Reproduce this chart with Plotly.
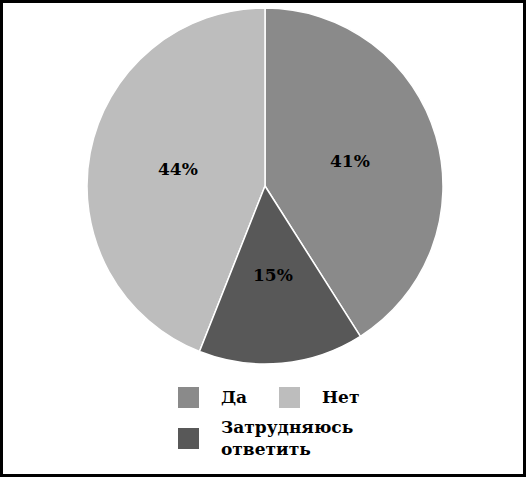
import math
import plotly.graph_objects as go

# данные диаграммы
labels = ["Да", "Нет", "Затрудняюсь<br>ответить"]
values = [41, 44, 15]
colors = ["#8a8a8a", "#bdbdbd", "#585858"]

W, H = 526, 477
FONT = "DejaVu Serif"

# круг: центр и радиус в пикселях
CX, CY, R = 265, 186, 178

# против часовой: первый сектор (Да) лежит справа от 12 часов,
# порядок легенды при этом Да, Нет, Затрудняюсь
pie = go.Pie(
    labels=labels,
    values=values,
    marker=dict(colors=colors, line=dict(color="white", width=1.5)),
    sort=False,
    direction="counterclockwise",
    rotation=0,
    textinfo="none",
    domain=dict(x=[(CX - R) / W, (CX + R) / W], y=[1 - (CY + R) / H, 1 - (CY - R) / H]),
    showlegend=False,
    hoverinfo="label+percent",
)

fig = go.Figure(data=[pie])

shapes = []
annotations = []

# подписи процентов на половине радиуса, по середине сектора
total = sum(values)
# углы по часовой от 12 часов: Да 0..v0, Нет 360-v1..360, Затр. между ними
start_cw = [0, 360 - 360 * values[1] / total, 360 * values[0] / total]
for v, a0 in zip(values, start_cw):
    mid = math.radians(a0 + 180 * v / total)
    px = CX + 0.5 * R * math.sin(mid)
    py = CY - 0.5 * R * math.cos(mid)
    annotations.append(dict(
        text=f"{v}%", xref="paper", yref="paper",
        x=px / W, y=1 - py / H, showarrow=False,
        xanchor="center", yanchor="middle",
        font=dict(family=FONT, size=17, color="black", weight="bold"),
    ))

# легенда вручную: квадраты 20px как в оригинале
col_x = [178, 279]
row_y = [387, 428]
slots = [(0, 0), (0, 1), (1, 0)]
for lab, col, (r, c) in zip(labels, colors, slots):
    x0 = col_x[c]
    y0 = row_y[r]
    shapes.append(dict(
        type="rect", xref="paper", yref="paper",
        x0=x0 / W, x1=(x0 + 21) / W, y0=1 - (y0 + 21) / H, y1=1 - y0 / H,
        fillcolor=col, line=dict(width=0),
    ))
    annotations.append(dict(
        text=lab, xref="paper", yref="paper",
        x=(x0 + 41) / W, y=1 - (y0 + 10) / H,
        xanchor="left", yanchor="middle", align="left", showarrow=False,
        font=dict(family=FONT, size=17, color="black", weight="bold"),
    ))

# рамка вокруг картинки
shapes.append(dict(
    type="rect", xref="paper", yref="paper",
    x0=1.5 / W, x1=1 - 1.5 / W, y0=1.5 / H, y1=1 - 1.5 / H,
    line=dict(color="black", width=3), fillcolor="rgba(0,0,0,0)",
))

fig.update_layout(
    width=W, height=H,
    margin=dict(l=0, r=0, t=0, b=0),
    paper_bgcolor="white",
    plot_bgcolor="white",
    shapes=shapes,
    annotations=annotations,
)

fig.write_html(
    "out.html",
    config={"displayModeBar": False},
    post_script="document.body.style.margin='0';",
)
